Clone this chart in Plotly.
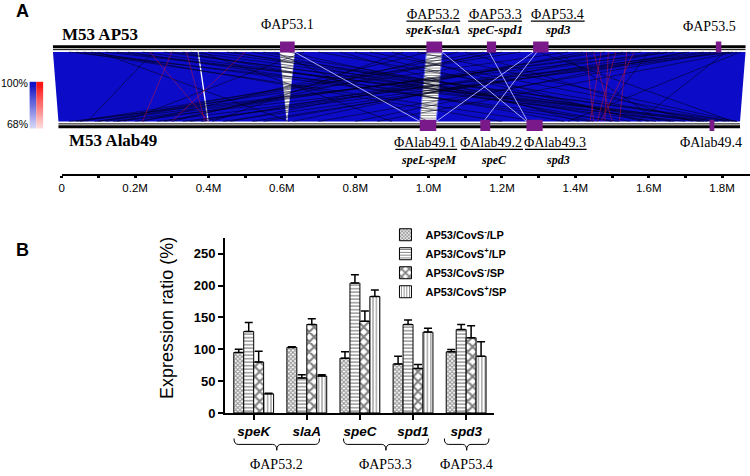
import plotly.graph_objects as go

W, H = 750, 476
def PX(x): return x / W
def PY(y): return 1 - y / H

# ================= Panel B data =================
categories = ["speK", "slaA", "speC", "spd1", "spd3"]
series_names = ["AP53/CovS<sup>-</sup>/LP", "AP53/CovS<sup>+</sup>/LP",
                "AP53/CovS<sup>-</sup>/SP", "AP53/CovS<sup>+</sup>/SP"]
lp_minus = [95, 103, 86, 77, 96]
lp_minus_err = [5, 1, 10, 12, 3.5]
lp_plus = [128, 55, 204, 139, 131]
lp_plus_err = [14, 5, 13, 7, 8]
sp_minus = [80, 139, 144, 70, 118]
sp_minus_err = [17, 9, 16, 6, 19]
sp_plus = [30, 58, 183, 127, 89]
sp_plus_err = [1, 2, 10, 6, 23]
y_tick_values = [0, 50, 100, 150, 200, 250]
bracket_labels = ["ΦAP53.2", "ΦAP53.3", "ΦAP53.4"]
bracket_left = [-0.37, 1.69, 3.59]
bracket_right = [1.24, 3.29, 4.43]

# ================= Panel A data =================
ruler_major = [0.0, 0.2, 0.4, 0.6, 0.8, 1.0, 1.2, 1.4, 1.6, 1.8]
ruler_labels = ["0", "0.2M", "0.4M", "0.6M", "0.8M", "1.0M", "1.2M", "1.4M", "1.6M", "1.8M"]
ruler_minor = [0.1, 0.3, 0.5, 0.7, 0.9, 1.1, 1.3, 1.5, 1.7]
ap53_genome = [-0.024, 1.864]
alab49_genome = [-0.009, 1.849]
ap53_phages = ["ΦAP53.1", "ΦAP53.2", "ΦAP53.3", "ΦAP53.4", "ΦAP53.5"]
ap53_phage_start = [0.595, 0.994, 1.159, 1.285, 1.783]
ap53_phage_end = [0.635, 1.037, 1.184, 1.327, 1.798]
ap53_toxins = ["", "speK-slaA", "speC-spd1", "spd3", ""]
alab49_phages = ["ΦAlab49.1", "ΦAlab49.2", "ΦAlab49.3", "ΦAlab49.4"]
alab49_phage_start = [0.976, 1.141, 1.267, 1.766]
alab49_phage_end = [1.021, 1.168, 1.311, 1.779]
alab49_toxins = ["speL-speM", "speC", "spd3", ""]
phage1_site_alab49 = 0.614

dark_link_top = [0.02, 0.06, 0.12, 0.18, 0.22, 0.28, 0.33, 0.40, 0.47, 0.55,
                 0.70, 0.76, 0.84, 0.90, 1.08, 1.20, 1.38, 1.42, 1.48, 1.53,
                 1.58, 1.63, 1.67, 1.71, 1.75, 1.79, 1.82, 1.84, 1.85, 0.10,
                 0.38, 0.66, 0.93, 1.35, 1.60, 1.81, 0.25, 0.58, 1.10, 1.30,
                 0.04, 0.15, 0.30, 0.45, 0.62, 0.80, 0.97, 1.15, 1.25, 1.45,
                 1.65, 1.77, 1.83, 0.08, 0.35, 0.52, 1.00, 1.18, 1.55, 1.70]
dark_link_bottom = [1.70, 1.52, 1.79, 1.44, 1.62, 1.74, 1.37, 1.84, 1.50, 1.67,
                    1.78, 1.41, 1.82, 1.58, 0.30, 0.12, 0.05, 0.46, 0.20, 0.63,
                    0.09, 0.35, 0.02, 0.52, 0.26, 0.70, 0.15, 0.86, 1.38, 0.62,
                    0.90, 0.17, 0.41, 1.63, 1.46, 1.57, 0.07, 1.00, 1.72, 1.83,
                    1.30, 1.75, 1.66, 1.81, 1.45, 1.60, 1.84, 0.10, 0.04, 0.38,
                    0.55, 0.44, 0.33, 1.20, 1.76, 1.55, 0.22, 0.28, 0.14, 0.80]
red_link_top = [0.24, 0.30, 0.34, 0.50, 1.43, 1.45, 1.47, 1.49, 1.51, 1.54, 1.56]
red_link_bottom = [0.40, 0.22, 0.39, 0.30, 1.45, 1.50, 1.44, 1.48, 1.46, 1.52, 1.47]
light_link_top = [0.635, 1.037, 1.165, 1.285, 1.295]
light_link_bottom = [0.976, 1.267, 1.270, 1.021, 1.150]
gap_link_top = [0.372]
gap_link_bottom = [0.399]
identity_levels = [68, 72, 76, 80, 84, 88, 92, 96, 100]

# ---------------- styles ----------------
SANS = "Liberation Sans, Arial, sans-serif"
SERIF = "Liberation Serif, Times New Roman, serif"
NARROW = "Liberation Sans Narrow, Arial Narrow, Liberation Sans, sans-serif"
PURPLE = "#7a1a8a"
BLUE = "#0c0cc8"
BT, BB = 0.944, 0.0625   # band edges (genome track units)

fig = go.Figure()

# ================= Panel B bars =================
patterns = [
    dict(shape="x", size=3, solidity=0.6, fgcolor="#333", bgcolor="white"),
    dict(shape="-", size=3.5, solidity=0.35, fgcolor="black", bgcolor="white"),
    dict(shape="x", size=7, solidity=0.5, fgcolor="black", bgcolor="white"),
    dict(shape="|", size=3.4, solidity=0.3, fgcolor="black", bgcolor="white"),
]
vals = [lp_minus, lp_plus, sp_minus, sp_plus]
errs = [lp_minus_err, lp_plus_err, sp_minus_err, sp_plus_err]
xpos = list(range(len(categories)))
for name, v, e, p in zip(series_names, vals, errs, patterns):
    fig.add_trace(go.Bar(
        x=xpos, y=v, name="<b>" + name + "</b>",
        marker=dict(color="white", pattern=p, line=dict(color="black", width=1)),
        error_y=dict(type="data", array=e, arrayminus=[0] * len(e), symmetric=False,
                     color="black", thickness=1.5, width=4),
        xaxis="x", yaxis="y"))

# ================= Panel A genome comparison =================
def link_xy(tops, bots):
    xs, ys = [], []
    for t, b in zip(tops, bots):
        xs += [t, b, None]
        ys += [BT, BB, None]
    return xs, ys

fig.add_trace(go.Scatter(
    x=[ap53_genome[0], ap53_genome[1], alab49_genome[1], alab49_genome[0], ap53_genome[0]],
    y=[BT, BT, BB, BB, BT], fill="toself", fillcolor=BLUE, mode="lines",
    line=dict(width=0, color=BLUE), xaxis="x2", yaxis="y2", showlegend=False, hoverinfo="skip"))
fig.add_trace(go.Scatter(
    x=[ap53_phage_start[0], ap53_phage_end[0], phage1_site_alab49, ap53_phage_start[0]],
    y=[BT, BT, BB, BT], fill="toself", fillcolor="white", mode="lines",
    fillpattern=dict(shape="-", size=5, solidity=0.15, fgcolor="black", bgcolor="white"),
    line=dict(width=0.5, color="white"), xaxis="x2", yaxis="y2", showlegend=False, hoverinfo="skip"))
fig.add_trace(go.Scatter(
    x=[ap53_phage_start[1], ap53_phage_end[1], alab49_phage_end[0], alab49_phage_start[0], ap53_phage_start[1]],
    y=[BT, BT, BB, BB, BT], fill="toself", fillcolor="white", mode="lines",
    fillpattern=dict(shape="-", size=2.5, solidity=0.3, fgcolor="black", bgcolor="white"),
    line=dict(width=1, color="#7070ff"), xaxis="x2", yaxis="y2", showlegend=False, hoverinfo="skip"))
gx, gy = link_xy(gap_link_top, gap_link_bottom)
fig.add_trace(go.Scatter(x=gx, y=gy, mode="lines", line=dict(color="white", width=1.3),
                         xaxis="x2", yaxis="y2", showlegend=False, hoverinfo="skip"))
dx, dy = link_xy(dark_link_top, dark_link_bottom)
fig.add_trace(go.Scatter(x=dx, y=dy, mode="lines", line=dict(color="rgba(0,0,30,0.7)", width=0.8),
                         xaxis="x2", yaxis="y2", showlegend=False, hoverinfo="skip"))
lx, ly = link_xy(light_link_top, light_link_bottom)
fig.add_trace(go.Scatter(x=lx, y=ly, mode="lines", line=dict(color="rgba(175,175,255,0.95)", width=1),
                         xaxis="x2", yaxis="y2", showlegend=False, hoverinfo="skip"))
rx, ry = link_xy(red_link_top, red_link_bottom)
fig.add_trace(go.Scatter(x=rx, y=ry, mode="lines", line=dict(color="rgba(210,20,50,0.7)", width=0.7),
                         xaxis="x2", yaxis="y2", showlegend=False, hoverinfo="skip"))
for xs, yv, wd in [(ap53_genome, 1.0125, 3), (ap53_genome, 0.975, 1),
                   (alab49_genome, 0.031, 1), (alab49_genome, -0.006, 3)]:
    fig.add_trace(go.Scatter(x=xs, y=[yv, yv], mode="lines", line=dict(color="black", width=wd),
                             xaxis="x2", yaxis="y2", showlegend=False, hoverinfo="skip"))

shapes = []
for s, e in zip(ap53_phage_start, ap53_phage_end):
    shapes.append(dict(type="rect", xref="x2", yref="y2", x0=s, x1=e, y0=0.94, y1=1.08,
                       fillcolor=PURPLE, line=dict(width=0)))
for s, e in zip(alab49_phage_start, alab49_phage_end):
    shapes.append(dict(type="rect", xref="x2", yref="y2", x0=s, x1=e, y0=-0.06, y1=0.085,
                       fillcolor=PURPLE, line=dict(width=0)))

fig.add_trace(go.Scatter(x=[0], y=[0], mode="lines", xaxis="x3", yaxis="y3",
                         showlegend=False, hoverinfo="skip", opacity=0))

fig.add_trace(go.Heatmap(x=[0], y=identity_levels, z=[[v] for v in identity_levels],
                         colorscale=[[0, "#d4d4f6"], [1, "#1212c8"]], showscale=False,
                         zsmooth="best", xaxis="x4", yaxis="y4", hoverinfo="skip"))
fig.add_trace(go.Heatmap(x=[1], y=identity_levels, z=[[v] for v in identity_levels],
                         colorscale=[[0, "#ffd8d8"], [1, "#ff1414"]], showscale=False,
                         zsmooth="best", xaxis="x4", yaxis="y4", hoverinfo="skip"))

ann = []
def A(text, x, y, size=13, family=SERIF, xanchor="center", color="black", **kw):
    ann.append(dict(text=text, x=PX(x), y=PY(y), xref="paper", yref="paper", showarrow=False,
                    xanchor=xanchor, yanchor="middle", font=dict(size=size, family=family, color=color), **kw))

A("<b>A</b>", 11, 11, size=18, family=SANS, xanchor="left")
A("<b>B</b>", 11, 254, size=18, family=SANS, xanchor="left")
A("<b>M53 AP53</b>", 57, 35, size=17, xanchor="left")
A("<b>M53 Alab49</b>", 64, 143, size=17, xanchor="left")
A("100%", 26, 84, size=10.5, family=SANS, xanchor="right", borderpad=0)
A("68%", 26, 126, size=10.5, family=SANS, xanchor="right", borderpad=0)

ap53_label_pos = [(286, 25), (432, 15), (494, 15), (557, 15), (709, 27)]
for name, tox, (lxp, lyp) in zip(ap53_phages, ap53_toxins, ap53_label_pos):
    A(name, lxp, lyp, size=14)
    if tox:
        A("<b><i>" + tox + "</i></b>", lxp, lyp + 15, size=13)
        shapes.append(dict(type="line", xref="paper", yref="paper", x0=PX(lxp - 27), x1=PX(lxp + 27),
                           y0=PY(21.5), y1=PY(21.5), line=dict(color="black", width=1.2)))
alab49_label_pos = [(424, 145), (490, 145), (554, 145), (711, 145)]
for name, tox, (lxp, lyp) in zip(alab49_phages, alab49_toxins, alab49_label_pos):
    A(name, lxp, lyp, size=14)
    if tox:
        A("<b><i>" + tox + "</i></b>", lxp + 3, lyp + 18, size=12)
        shapes.append(dict(type="line", xref="paper", yref="paper", x0=PX(lxp - 30), x1=PX(lxp + 32),
                           y0=PY(152), y1=PY(152), line=dict(color="black", width=1.2)))

A("Expression ratio (%)", 164, 323, size=18, family=SANS, textangle=-90)

yE, yM, yT = PY(446), PY(452), PY(458)
d = 0.08
for lab, xl, xr in zip(bracket_labels, bracket_left, bracket_right):
    xc = (xl + xr) / 2
    path = (f"M {xl},{yE} Q {xl},{yM} {xl+d},{yM} L {xc-d},{yM} Q {xc},{yM} {xc},{yT} "
            f"Q {xc},{yM} {xc+d},{yM} L {xr-d},{yM} Q {xr},{yM} {xr},{yE}")
    shapes.append(dict(type="path", xref="x", yref="paper", path=path,
                       line=dict(color="black", width=1)))
    ann.append(dict(text=lab, x=xc, y=PY(472), xref="x", yref="paper", showarrow=False,
                    xanchor="center", yanchor="middle", font=dict(size=14, family=SERIF, color="black")))

fig.update_layout(
    width=W, height=H, margin=dict(l=0, r=0, t=0, b=0),
    paper_bgcolor="white", plot_bgcolor="white",
    barmode="group", bargap=0.25, bargroupgap=0,
    showlegend=True,
    legend=dict(x=PX(384), y=PY(224), xanchor="left", yanchor="top",
                font=dict(size=11, family=SANS, color="black"), bgcolor="rgba(0,0,0,0)",
                tracegroupgap=0, itemwidth=30),
    xaxis=dict(domain=[PX(223), PX(493)], range=[-0.538, 4.525], anchor="y",
               tickvals=xpos, ticktext=["<b><i>" + c + "</i></b>" for c in categories],
               tickfont=dict(size=13.5, family=SANS, color="black"),
               showline=True, linecolor="black", linewidth=2, ticks="outside", ticklen=5,
               tickwidth=2, tickcolor="black", showgrid=False, zeroline=False),
    yaxis=dict(domain=[PY(420), PY(242)], range=[0, 275], anchor="x",
               tickvals=y_tick_values, ticktext=["<b>" + str(v) + "</b>" for v in y_tick_values],
               tickfont=dict(size=13, family=SANS, color="black"),
               showline=True, linecolor="black", linewidth=2, ticks="outside", ticklen=5,
               tickwidth=2, tickcolor="black", showgrid=False, zeroline=False),
    xaxis2=dict(domain=[0, 1], range=[-0.1602, 1.8762], anchor="y2", visible=False),
    yaxis2=dict(domain=[PY(140), PY(40)], range=[-0.14375, 1.10625], anchor="x2", visible=False),
    xaxis3=dict(domain=[PX(59), 1], range=[0, 1.8762], anchor="y3",
                tickvals=ruler_major, ticktext=ruler_labels,
                tickfont=dict(size=11.5, family=NARROW, color="black"),
                showline=True, linecolor="black", linewidth=1.5, ticks="outside", ticklen=2,
                tickwidth=2.5, tickcolor="black", showgrid=False, zeroline=False,
                minor=dict(tickvals=ruler_minor, ticks="outside", ticklen=2, tickwidth=2.5,
                           tickcolor="black", showgrid=False)),
    yaxis3=dict(domain=[PY(177), PY(172)], range=[0, 1], anchor="x3", visible=False),
    xaxis4=dict(domain=[PX(26.5), PX(40.5)], range=[-0.5, 1.5], anchor="y4", visible=False),
    yaxis4=dict(domain=[PY(131), PY(83)], range=[66, 102], anchor="x4", visible=False),
    shapes=shapes, annotations=ann,
)

fig.write_html("out.html", config={"displayModeBar": False},
               post_script="document.body.style.margin='0';document.body.style.padding='0';")
